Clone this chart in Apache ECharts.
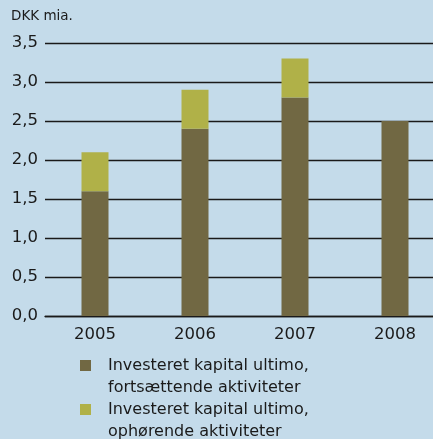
<!DOCTYPE html>
<html>
<head>
<meta charset="utf-8">
<script src="https://cdn.jsdelivr.net/npm/echarts@6/dist/echarts.min.js"></script>
<style>
html,body{margin:0;padding:0;background:#c4dbea;}
#c{width:433px;height:439px;}
</style>
</head>
<body>
<div id="c"></div>
<script>
const categories = ['2005', '2006', '2007', '2008'];
const continuing = [1.6, 2.4, 2.8, 2.5];
const discontinued = [0.5, 0.5, 0.5, 0];
const seriesNames = ['Investeret kapital ultimo,\nfortsættende aktiviteter', 'Investeret kapital ultimo,\nophørende aktiviteter'];
const unitLabel = 'DKK mia.';

const FONT = 'DejaVu Sans';
const chart = echarts.init(document.getElementById('c'), null, {renderer: 'canvas'});
const iconPath = 'path://M0,0H11V11H0Z M22.99,32.99H23V33H22.99Z';
chart.setOption({
  backgroundColor: '#c4dbea',
  animation: false,
  textStyle: {fontFamily: FONT},
  title: {
    text: unitLabel, left: 11, top: 9, padding: 0,
    textStyle: {fontFamily: FONT, fontSize: 13.5, fontWeight: 'normal', color: '#1a1a1a'}
  },
  grid: {left: 45, width: 400, top: 43, height: 273, containLabel: false, outerBoundsMode: 'none'},
  legend: {
    orient: 'vertical', left: 80, top: 354.5, height: 100, width: 320, padding: 0, itemGap: 0,
    itemWidth: 23, itemHeight: 33, icon: iconPath,
    textStyle: {fontFamily: FONT, fontSize: 16, color: '#1a1a1a', lineHeight: 22, padding: 0},
    selectedMode: false,
    data: seriesNames
  },
  xAxis: {
    type: 'category', data: categories,
    axisTick: {show: false},
    axisLine: {show: true, lineStyle: {color: '#1a1a1a', width: 1.3}},
    axisLabel: {fontFamily: FONT, fontSize: 16.5, color: '#1a1a1a', margin: 10}
  },
  yAxis: {
    type: 'value', min: 0, max: 3.5, interval: 0.5,
    axisLine: {show: false}, axisTick: {show: false},
    splitLine: {lineStyle: {color: '#1a1a1a', width: 1.3}},
    axisLabel: {fontFamily: FONT, fontSize: 16.5, color: '#1a1a1a', margin: 7,
      formatter: v => v.toFixed(1).replace('.', ',')}
  },
  series: [
    {name: seriesNames[0], type: 'bar', stack: 's', data: continuing, barWidth: 27,
     itemStyle: {color: '#716843'}},
    {name: seriesNames[1], type: 'bar', stack: 's', data: discontinued, barWidth: 27,
     itemStyle: {color: '#b0b148'}}
  ]
});
</script>
</body>
</html>
